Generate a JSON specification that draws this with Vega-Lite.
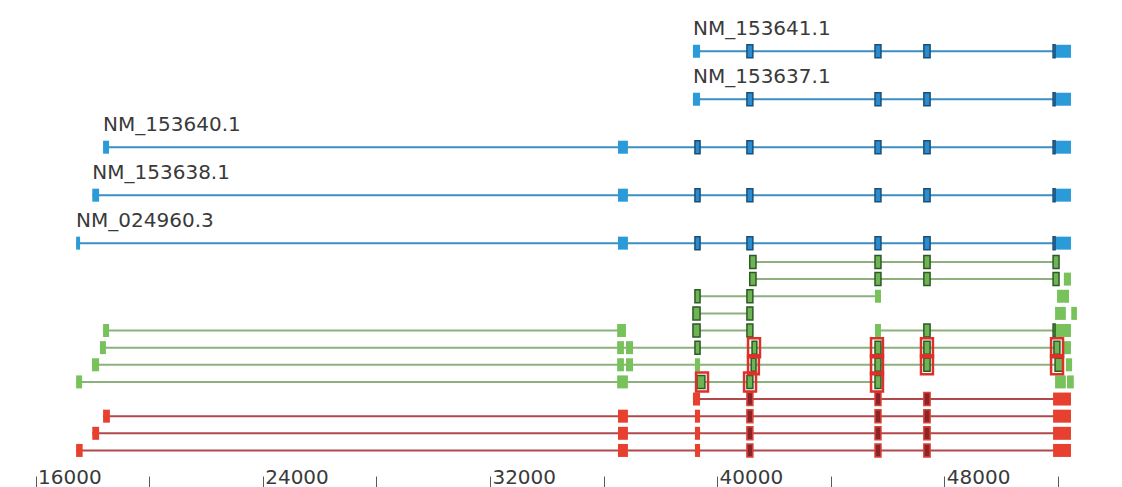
{
  "$schema": "https://vega.github.io/schema/vega-lite/v6.json",
  "width": 1122,
  "height": 476,
  "padding": {"left": 0, "right": 0, "top": 0, "bottom": 11},
  "autosize": {"type": "none"},
  "background": "white",
  "config": {"view": {"stroke": null}},
  "datasets": {
    "introns": [
      {"set": "blue", "name": "NM_153641.1", "lane": 2.7, "start": 39150, "end": 52460},
      {"set": "blue", "name": "NM_153637.1", "lane": 5.5, "start": 39150, "end": 52460},
      {"set": "blue", "name": "NM_153640.1", "lane": 8.3, "start": 18380, "end": 52460},
      {"set": "blue", "name": "NM_153638.1", "lane": 11.1, "start": 18000, "end": 52460},
      {"set": "blue", "name": "NM_024960.3", "lane": 13.9, "start": 17430, "end": 52460},
      {"set": "green", "lane": 15, "start": 41150, "end": 52000},
      {"set": "green", "lane": 16, "start": 41150, "end": 52000},
      {"set": "green", "lane": 17, "start": 39220, "end": 45770},
      {"set": "green", "lane": 18, "start": 39150, "end": 41260},
      {"set": "green", "lane": 19, "start": 18380, "end": 36790},
      {"set": "green", "lane": 19, "start": 39150, "end": 41260},
      {"set": "green", "lane": 19, "start": 45560, "end": 52460},
      {"set": "green", "lane": 20, "start": 18270, "end": 52070},
      {"set": "green", "lane": 21, "start": 17990, "end": 52180},
      {"set": "green", "lane": 22, "start": 17430, "end": 45770},
      {"set": "red", "lane": 23, "start": 39150, "end": 52460},
      {"set": "red", "lane": 24, "start": 18380, "end": 52460},
      {"set": "red", "lane": 25, "start": 18000, "end": 52460},
      {"set": "red", "lane": 26, "start": 17430, "end": 52460}
    ],
    "exons": [
      {"set": "blue", "lane": 2.7, "part": "utr", "start": 39150, "end": 39400},
      {"set": "blue", "lane": 2.7, "part": "cds", "start": 41050, "end": 41260},
      {"set": "blue", "lane": 2.7, "part": "cds", "start": 45560, "end": 45770},
      {"set": "blue", "lane": 2.7, "part": "cds", "start": 47280, "end": 47500},
      {"set": "blue", "lane": 2.7, "part": "cds", "start": 51830, "end": 51900},
      {"set": "blue", "lane": 2.7, "part": "utr", "start": 51900, "end": 52460},

      {"set": "blue", "lane": 5.5, "part": "utr", "start": 39150, "end": 39400},
      {"set": "blue", "lane": 5.5, "part": "cds", "start": 41050, "end": 41260},
      {"set": "blue", "lane": 5.5, "part": "cds", "start": 45560, "end": 45770},
      {"set": "blue", "lane": 5.5, "part": "cds", "start": 47280, "end": 47500},
      {"set": "blue", "lane": 5.5, "part": "cds", "start": 51830, "end": 51900},
      {"set": "blue", "lane": 5.5, "part": "utr", "start": 51900, "end": 52460},

      {"set": "blue", "lane": 8.3, "part": "utr", "start": 18380, "end": 18590},
      {"set": "blue", "lane": 8.3, "part": "utr", "start": 36510, "end": 36860},
      {"set": "blue", "lane": 8.3, "part": "cds", "start": 39220, "end": 39400},
      {"set": "blue", "lane": 8.3, "part": "cds", "start": 41050, "end": 41260},
      {"set": "blue", "lane": 8.3, "part": "cds", "start": 45560, "end": 45770},
      {"set": "blue", "lane": 8.3, "part": "cds", "start": 47280, "end": 47500},
      {"set": "blue", "lane": 8.3, "part": "cds", "start": 51830, "end": 51900},
      {"set": "blue", "lane": 8.3, "part": "utr", "start": 51900, "end": 52460},

      {"set": "blue", "lane": 11.1, "part": "utr", "start": 18000, "end": 18240},
      {"set": "blue", "lane": 11.1, "part": "utr", "start": 36510, "end": 36860},
      {"set": "blue", "lane": 11.1, "part": "cds", "start": 39220, "end": 39400},
      {"set": "blue", "lane": 11.1, "part": "cds", "start": 41050, "end": 41260},
      {"set": "blue", "lane": 11.1, "part": "cds", "start": 45560, "end": 45770},
      {"set": "blue", "lane": 11.1, "part": "cds", "start": 47280, "end": 47500},
      {"set": "blue", "lane": 11.1, "part": "cds", "start": 51830, "end": 51900},
      {"set": "blue", "lane": 11.1, "part": "utr", "start": 51900, "end": 52460},

      {"set": "blue", "lane": 13.9, "part": "utr", "start": 17430, "end": 17570},
      {"set": "blue", "lane": 13.9, "part": "utr", "start": 36510, "end": 36860},
      {"set": "blue", "lane": 13.9, "part": "cds", "start": 39220, "end": 39400},
      {"set": "blue", "lane": 13.9, "part": "cds", "start": 41050, "end": 41260},
      {"set": "blue", "lane": 13.9, "part": "cds", "start": 45560, "end": 45770},
      {"set": "blue", "lane": 13.9, "part": "cds", "start": 47280, "end": 47500},
      {"set": "blue", "lane": 13.9, "part": "cds", "start": 51830, "end": 51900},
      {"set": "blue", "lane": 13.9, "part": "utr", "start": 51900, "end": 52460},

      {"set": "green", "lane": 15, "part": "cds", "start": 41150, "end": 41370},
      {"set": "green", "lane": 15, "part": "cds", "start": 45560, "end": 45770},
      {"set": "green", "lane": 15, "part": "cds", "start": 47280, "end": 47500},
      {"set": "green", "lane": 15, "part": "cds", "start": 51830, "end": 52040},

      {"set": "green", "lane": 16, "part": "cds", "start": 41150, "end": 41370},
      {"set": "green", "lane": 16, "part": "cds", "start": 45560, "end": 45770},
      {"set": "green", "lane": 16, "part": "cds", "start": 47280, "end": 47500},
      {"set": "green", "lane": 16, "part": "cds", "start": 51830, "end": 52040},
      {"set": "green", "lane": 16, "part": "utr", "start": 52210, "end": 52460},

      {"set": "green", "lane": 17, "part": "cds", "start": 39220, "end": 39400},
      {"set": "green", "lane": 17, "part": "cds", "start": 41050, "end": 41260},
      {"set": "green", "lane": 17, "part": "utr", "start": 45560, "end": 45770},
      {"set": "green", "lane": 17, "part": "utr", "start": 51970, "end": 52390},

      {"set": "green", "lane": 18, "part": "cds", "start": 39150, "end": 39400},
      {"set": "green", "lane": 18, "part": "cds", "start": 41050, "end": 41260},
      {"set": "green", "lane": 18, "part": "utr", "start": 51900, "end": 52280},
      {"set": "green", "lane": 18, "part": "utr", "start": 52470, "end": 52670},

      {"set": "green", "lane": 19, "part": "utr", "start": 18380, "end": 18590},
      {"set": "green", "lane": 19, "part": "utr", "start": 36480, "end": 36790},
      {"set": "green", "lane": 19, "part": "cds", "start": 39150, "end": 39400},
      {"set": "green", "lane": 19, "part": "cds", "start": 41050, "end": 41260},
      {"set": "green", "lane": 19, "part": "utr", "start": 45560, "end": 45770},
      {"set": "green", "lane": 19, "part": "cds", "start": 47280, "end": 47500},
      {"set": "green", "lane": 19, "part": "cds", "start": 51830, "end": 51900},
      {"set": "green", "lane": 19, "part": "utr", "start": 51900, "end": 52460},

      {"set": "green", "lane": 20, "part": "utr", "start": 18270, "end": 18480},
      {"set": "green", "lane": 20, "part": "utr", "start": 36480, "end": 36720},
      {"set": "green", "lane": 20, "part": "utr", "start": 36790, "end": 37040},
      {"set": "green", "lane": 20, "part": "cds", "start": 39220, "end": 39400},
      {"set": "green", "lane": 20, "part": "cds", "start": 41230, "end": 41400},
      {"set": "green", "lane": 20, "part": "cds", "start": 45560, "end": 45770},
      {"set": "green", "lane": 20, "part": "cds", "start": 47280, "end": 47500},
      {"set": "green", "lane": 20, "part": "cds", "start": 51860, "end": 52070},
      {"set": "green", "lane": 20, "part": "utr", "start": 52180, "end": 52460},

      {"set": "green", "lane": 21, "part": "utr", "start": 17990, "end": 18240},
      {"set": "green", "lane": 21, "part": "utr", "start": 36480, "end": 36720},
      {"set": "green", "lane": 21, "part": "utr", "start": 36790, "end": 37040},
      {"set": "green", "lane": 21, "part": "utr", "start": 39220, "end": 39400},
      {"set": "green", "lane": 21, "part": "cds", "start": 41200, "end": 41370},
      {"set": "green", "lane": 21, "part": "cds", "start": 45560, "end": 45770},
      {"set": "green", "lane": 21, "part": "cds", "start": 47280, "end": 47500},
      {"set": "green", "lane": 21, "part": "cds", "start": 51900, "end": 52180},
      {"set": "green", "lane": 21, "part": "utr", "start": 52280, "end": 52500},

      {"set": "green", "lane": 22, "part": "utr", "start": 17430, "end": 17640},
      {"set": "green", "lane": 22, "part": "utr", "start": 36480, "end": 36860},
      {"set": "green", "lane": 22, "part": "cds", "start": 39290, "end": 39570},
      {"set": "green", "lane": 22, "part": "cds", "start": 41050, "end": 41260},
      {"set": "green", "lane": 22, "part": "cds", "start": 45560, "end": 45770},
      {"set": "green", "lane": 22, "part": "utr", "start": 51900, "end": 52280},
      {"set": "green", "lane": 22, "part": "utr", "start": 52320, "end": 52560},

      {"set": "red", "lane": 23, "part": "utr", "start": 39150, "end": 39400},
      {"set": "red", "lane": 23, "part": "cds", "start": 41050, "end": 41260},
      {"set": "red", "lane": 23, "part": "cds", "start": 45560, "end": 45770},
      {"set": "red", "lane": 23, "part": "cds", "start": 47280, "end": 47500},
      {"set": "red", "lane": 23, "part": "utr", "start": 51830, "end": 52460},

      {"set": "red", "lane": 24, "part": "utr", "start": 18380, "end": 18620},
      {"set": "red", "lane": 24, "part": "utr", "start": 36510, "end": 36860},
      {"set": "red", "lane": 24, "part": "utr", "start": 39220, "end": 39400},
      {"set": "red", "lane": 24, "part": "cds", "start": 41050, "end": 41260},
      {"set": "red", "lane": 24, "part": "cds", "start": 45560, "end": 45770},
      {"set": "red", "lane": 24, "part": "cds", "start": 47280, "end": 47500},
      {"set": "red", "lane": 24, "part": "utr", "start": 51830, "end": 52460},

      {"set": "red", "lane": 25, "part": "utr", "start": 18000, "end": 18240},
      {"set": "red", "lane": 25, "part": "utr", "start": 36510, "end": 36860},
      {"set": "red", "lane": 25, "part": "utr", "start": 39220, "end": 39400},
      {"set": "red", "lane": 25, "part": "cds", "start": 41050, "end": 41260},
      {"set": "red", "lane": 25, "part": "cds", "start": 45560, "end": 45770},
      {"set": "red", "lane": 25, "part": "cds", "start": 47280, "end": 47500},
      {"set": "red", "lane": 25, "part": "utr", "start": 51830, "end": 52460},

      {"set": "red", "lane": 26, "part": "utr", "start": 17430, "end": 17660},
      {"set": "red", "lane": 26, "part": "utr", "start": 36510, "end": 36860},
      {"set": "red", "lane": 26, "part": "utr", "start": 39220, "end": 39400},
      {"set": "red", "lane": 26, "part": "cds", "start": 41050, "end": 41260},
      {"set": "red", "lane": 26, "part": "cds", "start": 45560, "end": 45770},
      {"set": "red", "lane": 26, "part": "cds", "start": 47280, "end": 47500},
      {"set": "red", "lane": 26, "part": "utr", "start": 51830, "end": 52460}
    ],
    "highlights": [
      {"lane": 20, "start": 41090, "end": 41510},
      {"lane": 20, "start": 45420, "end": 45840},
      {"lane": 20, "start": 47180, "end": 47600},
      {"lane": 20, "start": 51760, "end": 52180},
      {"lane": 21, "start": 41090, "end": 41470},
      {"lane": 21, "start": 45420, "end": 45840},
      {"lane": 21, "start": 47180, "end": 47600},
      {"lane": 21, "start": 51760, "end": 52180},
      {"lane": 22, "start": 39260, "end": 39680},
      {"lane": 22, "start": 40950, "end": 41370},
      {"lane": 22, "start": 45420, "end": 45840}
    ]
  },
  "encoding": {
    "x": {
      "field": "start",
      "type": "quantitative",
      "scale": {"domain": [14750, 54257], "nice": false, "zero": false},
      "axis": {
        "title": null,
        "values": [16000, 20000, 24000, 28000, 32000, 36000, 40000, 44000, 48000, 52000],
        "format": "d",
        "labelExpr": "datum.value % 8000 === 0 ? datum.label : ''",
        "domain": false,
        "grid": false,
        "tickSize": 14,
        "tickColor": "#5a5a5a",
        "tickWidth": 1,
        "labelAlign": "left",
        "labelBaseline": "alphabetic",
        "labelPadding": -7,
        "labelOffset": 2,
        "labelFont": "DejaVu Sans",
        "labelFontSize": 20,
        "labelColor": "#3a3a3a",
        "labelFlush": false,
        "labelOverlap": false,
        "labelBound": false,
        "encode": {"ticks": {"update": {"y": {"signal": "datum.value % 8000 === 0 ? 0 : 7"}}}}
      }
    },
    "y": {
      "field": "lane",
      "type": "quantitative",
      "scale": {"domain": [0, 27.2], "reverse": true, "nice": false, "zero": false},
      "axis": null
    }
  },
  "layer": [
    {
      "data": {"name": "introns"},
      "mark": {"type": "rule", "strokeWidth": 2},
      "encoding": {
        "x2": {"field": "end"},
        "color": {
          "field": "set", "type": "nominal", "legend": null,
          "scale": {"domain": ["blue", "green", "red"], "range": ["#3b8fc2", "#8db07e", "#b0484c"]}
        }
      }
    },
    {
      "data": {"name": "exons"},
      "transform": [{"filter": "datum.part === 'utr'"}],
      "mark": {"type": "bar", "size": 13, "orient": "horizontal"},
      "encoding": {
        "x2": {"field": "end"},
        "fill": {
          "field": "set", "type": "nominal", "legend": null,
          "scale": {"domain": ["blue", "green", "red"], "range": ["#2a9ad8", "#78c25c", "#e8402e"]}
        }
      }
    },
    {
      "data": {"name": "exons"},
      "transform": [{"filter": "datum.part === 'cds'"}],
      "mark": {"type": "bar", "size": 13, "orient": "horizontal", "strokeWidth": 1.5},
      "encoding": {
        "x2": {"field": "end"},
        "fill": {
          "field": "set", "type": "nominal", "legend": null,
          "scale": {"domain": ["blue", "green", "red"], "range": ["#2a8ccc", "#6fb452", "#8e2226"]}
        },
        "stroke": {
          "field": "set", "type": "nominal", "legend": null,
          "scale": {"domain": ["blue", "green", "red"], "range": ["#1b4f78", "#2c5a26", "#d8443a"]}
        }
      }
    },
    {
      "data": {"name": "highlights"},
      "mark": {"type": "bar", "size": 19, "orient": "horizontal", "fill": "transparent", "stroke": "#dc3028", "strokeWidth": 2.5},
      "encoding": {"x2": {"field": "end"}}
    },
    {
      "data": {"name": "introns"},
      "transform": [{"filter": "isValid(datum.name)"}],
      "mark": {"type": "text", "align": "left", "baseline": "alphabetic", "dy": -16, "font": "DejaVu Sans", "fontSize": 20, "fill": "#3a3a3a"},
      "encoding": {"text": {"field": "name"}}
    }
  ],
  "resolve": {"scale": {"fill": "independent", "stroke": "independent", "color": "independent"}}
}
